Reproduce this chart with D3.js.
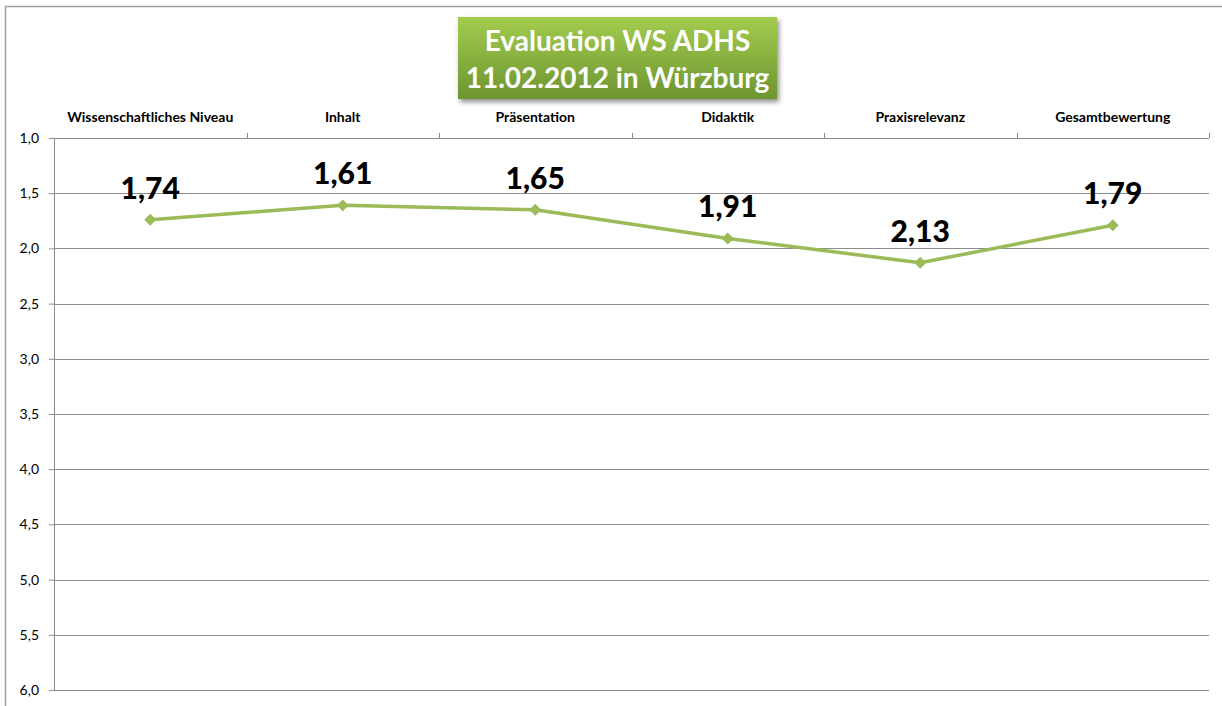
<!DOCTYPE html>
<meta charset="utf-8">
<script src="https://d3js.org/d3.v7.min.js"></script>
<style>
  body { margin: 0; background: #fff; }
  text { font-family: Lato, "Open Sans", sans-serif; }
</style>
<div id="chart"></div>
<script>

// data
var categories = ["Wissenschaftliches Niveau", "Inhalt", "Präsentation", "Didaktik", "Praxisrelevanz", "Gesamtbewertung"];
var scores = [1.74, 1.61, 1.65, 1.91, 2.13, 1.79];
var yTicks = [1.0, 1.5, 2.0, 2.5, 3.0, 3.5, 4.0, 4.5, 5.0, 5.5, 6.0];
var titleLines = ["Evaluation WS ADHS", "11.02.2012 in Würzburg"];

var W = 1222, H = 706;
var margin = {top: 138, right: 13, bottom: 16, left: 54};
var width = W - margin.left - margin.right,
    height = H - margin.top - margin.bottom;

var svg = d3.select("#chart").append("svg")
    .attr("width", W).attr("height", H);

// outer frame (top + left visible)
svg.append("path")
    .attr("d", "M5.5,706 V6.5 H1222")
    .attr("fill", "none").attr("stroke", "#a0a0a0").attr("stroke-width", 1.5);

var defs = svg.append("defs");
var grad = defs.append("linearGradient").attr("id", "tg").attr("x1", 0).attr("y1", 0).attr("x2", 0).attr("y2", 1);
grad.append("stop").attr("offset", "0%").attr("stop-color", "#a3cc4f");
grad.append("stop").attr("offset", "100%").attr("stop-color", "#6d9531");
var sh = defs.append("filter").attr("id", "sh").attr("x", "-10%").attr("y", "-10%").attr("width", "130%").attr("height", "140%");
sh.append("feDropShadow").attr("dx", 2).attr("dy", 3).attr("stdDeviation", 2.5).attr("flood-color", "#000").attr("flood-opacity", 0.45);

var g = svg.append("g").attr("transform", "translate(" + margin.left + "," + margin.top + ")");

var x = d3.scaleBand().domain(categories).range([0, width]);
var y = d3.scaleLinear().domain([1, 6]).range([0, height]);

// gridlines
g.selectAll(".grid").data(yTicks.slice(1, -1)).enter().append("line")
    .attr("x1", 0).attr("x2", width)
    .attr("y1", function(d) { return Math.round(y(d)) + 0.5; })
    .attr("y2", function(d) { return Math.round(y(d)) + 0.5; })
    .attr("stroke", "#8c8c8c").attr("stroke-width", 1);

// left axis
var yAxis = d3.axisLeft(y).tickValues(yTicks).tickSize(5).tickPadding(10)
    .tickFormat(function(d) { return d3.format(".1f")(d).replace(".", ","); });
var ya = g.append("g").call(yAxis);
ya.select(".domain").attr("stroke", "#8c8c8c");
ya.selectAll(".tick line").attr("stroke", "#8c8c8c");
ya.selectAll(".tick text").attr("font-size", 14).attr("fill", "#000");

// top axis (categories) with ticks at band edges
var ta = g.append("g");
ta.append("line").attr("x1", 0).attr("x2", width).attr("y1", 0.5).attr("y2", 0.5).attr("stroke", "#8c8c8c");
ta.selectAll(".edge").data(categories.slice(1).concat([null])).enter().append("line")
    .attr("x1", function(d, i) { return Math.round(x.step() * (i + 1)) + 0.5; })
    .attr("x2", function(d, i) { return Math.round(x.step() * (i + 1)) + 0.5; })
    .attr("y1", 0).attr("y2", -5).attr("stroke", "#8c8c8c");
ta.selectAll(".cat").data(categories).enter().append("text")
    .attr("x", function(d) { return x(d) + x.bandwidth() / 2; })
    .attr("y", -16)
    .attr("text-anchor", "middle")
    .attr("font-size", 14).attr("font-weight", "bold")
    .text(function(d) { return d; });

// bottom axis line
g.append("line").attr("x1", 0).attr("x2", width).attr("y1", height + 0.5).attr("y2", height + 0.5).attr("stroke", "#8c8c8c");

// line
var line = d3.line()
    .x(function(d, i) { return x(categories[i]) + x.bandwidth() / 2; })
    .y(function(d) { return y(d); });
g.append("path").datum(scores)
    .attr("d", line)
    .attr("fill", "none").attr("stroke", "#9bbb59").attr("stroke-width", 3.5)
    .attr("stroke-linejoin", "round");

g.selectAll(".pt").data(scores).enter().append("path")
    .attr("d", d3.symbol().type(d3.symbolDiamond2).size(90))
    .attr("transform", function(d, i) { return "translate(" + (x(categories[i]) + x.bandwidth() / 2) + "," + y(d) + ")"; })
    .attr("fill", "#9bbb59");

// value labels
g.selectAll(".lbl").data(scores).enter().append("text")
    .attr("x", function(d, i) { return x(categories[i]) + x.bandwidth() / 2; })
    .attr("y", function(d) { return y(d) - 21; })
    .attr("text-anchor", "middle")
    .attr("font-size", 30).attr("font-weight", 900)
    .text(function(d) { return d3.format(".2f")(d).replace(".", ","); });

// title box
var tb = svg.append("g").attr("transform", "translate(458,17)");
tb.append("rect").attr("width", 319).attr("height", 82).attr("fill", "url(#tg)").attr("filter", "url(#sh)");
tb.selectAll("text").data(titleLines).enter().append("text")
    .attr("x", 159.5).attr("y", function(d, i) { return 34 + i * 37; })
    .attr("text-anchor", "middle")
    .attr("font-size", 28).attr("font-weight", "bold").attr("fill", "#fff")
    .text(function(d) { return d; });

</script>
